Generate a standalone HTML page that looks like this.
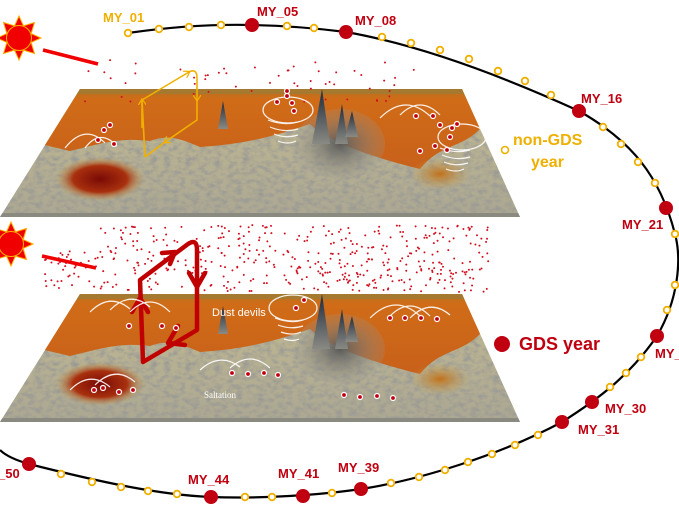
<!DOCTYPE html>
<html><head><meta charset="utf-8">
<style>
html,body{margin:0;padding:0;background:#fff;width:679px;height:509px;overflow:hidden}
svg{display:block}
.lb{font-family:"Liberation Sans",Arial,sans-serif;font-weight:bold;font-size:13px}
</style></head>
<body>
<svg id="s" width="679" height="509" viewBox="0 0 679 509" xmlns="http://www.w3.org/2000/svg">
<defs>
  <filter id="tex" x="0" y="0" width="100%" height="100%">
    <feTurbulence type="fractalNoise" baseFrequency="0.14 0.22" numOctaves="3" seed="4" result="n"/>
    <feColorMatrix in="n" type="matrix" values="0 0 0 0 0.32  0 0 0 0 0.32  0 0 0 0 0.3  0 0 0 2.2 -0.85" result="d"/>
    <feComposite in="d" in2="SourceGraphic" operator="in" result="dd"/>
    <feMerge><feMergeNode in="SourceGraphic"/><feMergeNode in="dd"/></feMerge>
  </filter>
  <linearGradient id="org" x1="0" y1="0" x2="0" y2="1">
    <stop offset="0" stop-color="#b27420"/><stop offset="0.12" stop-color="#d06c18"/><stop offset="1" stop-color="#c8601a"/>
  </linearGradient>
  <linearGradient id="gry" x1="0" y1="0" x2="0" y2="1">
    <stop offset="0" stop-color="#c4bb92"/><stop offset="1" stop-color="#aba792"/>
  </linearGradient>
  <radialGradient id="crat"><stop offset="0" stop-color="#7a0a06"/><stop offset="0.6" stop-color="#a8300e"/><stop offset="1" stop-color="#c8a050" stop-opacity="0"/></radialGradient>
  <radialGradient id="crat2"><stop offset="0" stop-color="#c0701a"/><stop offset="1" stop-color="#c8a050" stop-opacity="0"/></radialGradient>
  <radialGradient id="mnt"><stop offset="0" stop-color="#5a5a58"/><stop offset="1" stop-color="#9a9890" stop-opacity="0.2"/></radialGradient>
  <linearGradient id="peak" x1="0" y1="0" x2="0" y2="1"><stop offset="0" stop-color="#1e2a3a"/><stop offset="1" stop-color="#8a8a84"/></linearGradient>
  <clipPath id="cp"><polygon points="80,0 462,0 520,128 0,128"/></clipPath>
  <g id="map">
    <g clip-path="url(#cp)">
      <rect x="0" y="0" width="520" height="128" fill="url(#gry)" filter="url(#tex)"/>
      <path d="M60,0 H470 L480,40 C460,60 440,55 420,80 C380,70 330,55 310,35 C280,45 250,55 200,58 C180,50 170,45 150,52 C120,48 100,55 70,62 L40,55 Z" fill="url(#org)"/>
      <rect x="0" y="0" width="520" height="5" fill="#a57a30"/>
      <ellipse cx="340" cy="55" rx="45" ry="35" fill="url(#mnt)"/>
      <ellipse cx="100" cy="90" rx="45" ry="22" fill="url(#crat)"/>
      <ellipse cx="440" cy="85" rx="30" ry="16" fill="url(#crat2)"/>
      <polygon points="312,55 322,0 330,55" fill="url(#peak)"/>
      <polygon points="335,55 342,15 348,55" fill="url(#peak)"/>
      <polygon points="345,48 352,22 358,48" fill="url(#peak)"/>
      <polygon points="218,40 223,12 228,40" fill="url(#peak)"/>
      <rect x="0" y="124" width="520" height="4" fill="#8a8a80"/>
    </g>
  </g>
  <g id="sun">
    <g fill="#f00000" stroke="#ffb000" stroke-width="1">
      <polygon points="0,-22 5,-11 -5,-11"/><polygon points="0,22 5,11 -5,11"/>
      <polygon points="-22,0 -11,5 -11,-5"/><polygon points="22,0 11,5 11,-5"/>
      <polygon points="15.5,-15.5 4,-12 12,-4"/><polygon points="-15.5,-15.5 -4,-12 -12,-4"/>
      <polygon points="15.5,15.5 4,12 12,4"/><polygon points="-15.5,15.5 -4,12 -12,4"/>
      <circle r="12.5"/>
    </g>
  </g>
  <marker id="ay" markerWidth="8" markerHeight="8" refX="5" refY="4" orient="auto" markerUnits="userSpaceOnUse"><path d="M0,0 L6,4 L0,8" fill="none" stroke="#f0b000" stroke-width="1.3"/></marker>
</defs>

<path d="M128,33 C170,27 210,24 252,25 C300,26 330,30 346,32 C420,45 500,75 579,111 C630,140 660,175 675,234 C682,260 678,300 657,336 C630,375 600,398 562,422 C500,455 420,480 361,489 C320,495 260,499 211,497 C160,495 100,482 29,464 C15,460 5,455 0,450" fill="none" stroke="#000" stroke-width="2.2"/>
<g id="dots"></g>

<use href="#map" x="0" y="89"/>
<use href="#map" x="0" y="294"/>

<use href="#sun" x="19" y="38"/>
<line x1="43" y1="50" x2="98" y2="64" stroke="#f00000" stroke-width="3.5"/>
<use href="#sun" x="11" y="244"/>
<line x1="42" y1="256" x2="96" y2="268" stroke="#f00000" stroke-width="3.5"/>

<g id="dust"></g>

<g fill="none" stroke="#f0b000" stroke-width="1.6">
<path d="M145,157 L142,100" marker-end="url(#ay)"/>
<path d="M142,100 L142,128 M142,100 L189,72" marker-end="url(#ay)"/>
<path d="M189,72 Q197,68 197,78 L197,100" marker-end="url(#ay)"/>
<path d="M197,100 L197,120 L165,142" marker-end="url(#ay)"/>
<path d="M165,142 L145,157"/>
</g>

<g fill="none" stroke="#c00000" stroke-width="4.5" stroke-linejoin="round" stroke-linecap="round">
<path d="M143,362 L140,280 L188,244 Q197,238 197,250 L197,330 L143,362"/>
<path d="M132,312 L140,298 L148,312"/>
<path d="M162,253 L175,252 L170,264"/>
<path d="M189,273 L197,287 L205,273"/>
<path d="M178,326 L168,343 L185,345"/>
</g>

<g fill="none" stroke="#fff" stroke-width="1.2" opacity="0.9">
<ellipse cx="288" cy="110" rx="25" ry="13"/>
<path d="M268,120 q15,6 30,2 M270,127 q14,6 28,2 M274,134 q12,5 24,1 M278,141 q10,4 18,0"/>
<ellipse cx="462" cy="137" rx="24" ry="13"/>
<path d="M440,148 q15,6 30,2 M442,155 q14,6 28,2 M444,162 q12,5 24,1 M446,169 q10,4 18,0"/>
<ellipse cx="293" cy="308" rx="24" ry="13"/>
<path d="M275,318 q15,6 28,2 M278,325 q13,5 25,1 M281,332 q11,4 20,0 M284,339 q9,3 15,0"/>
<path d="M65,148 q20,-25 40,-5 M85,148 q15,-20 32,-2 M380,118 q25,-25 50,-2 M400,115 q20,-20 40,0"/>
<path d="M90,312 q20,-20 40,-3 M110,310 q20,-20 40,-3 M130,312 q20,-20 40,0 M370,318 q25,-25 50,-2 M390,316 q20,-20 40,0 M410,318 q20,-20 40,-3"/>
<path d="M70,390 q20,-20 40,-3 M95,385 q20,-20 40,-3 M200,370 q20,-18 40,-3 M230,368 q20,-18 40,0 M330,440 q20,-18 40,-3 M350,440 q20,-18 40,0"/>
</g>
<g id="pdots"></g>

<text x="212" y="316" font-family="Liberation Sans,sans-serif" font-size="11" fill="#fff">Dust devils</text>
<text x="204" y="398" font-family="Liberation Serif,serif" font-size="9" fill="#fff">Saltation</text>

<g class="lb" fill="#c00010">
<text x="103" y="22" fill="#f0b000">MY_01</text>
<text x="257" y="16">MY_05</text>
<text x="355" y="25">MY_08</text>
<text x="581" y="103">MY_16</text>
<text x="622" y="229">MY_21</text>
<text x="655" y="358">MY_</text>
<text x="605" y="413">MY_30</text>
<text x="578" y="434">MY_31</text>
<text x="338" y="472">MY_39</text>
<text x="278" y="478">MY_41</text>
<text x="188" y="484">MY_44</text>
<text x="-2" y="478">_50</text>
</g>
<circle cx="505" cy="150" r="3.5" fill="#fff" stroke="#f0b000" stroke-width="1.6"/>
<text x="513" y="145" font-family="Liberation Sans,sans-serif" font-weight="bold" font-size="16" fill="#f0b000">non-GDS</text>
<text x="531" y="167" font-family="Liberation Sans,sans-serif" font-weight="bold" font-size="16" fill="#f0b000">year</text>
<circle cx="502" cy="344" r="8" fill="#c00010"/>
<text x="519" y="350" font-family="Liberation Sans,sans-serif" font-weight="bold" font-size="18" fill="#c00010">GDS year</text>

<script>
var NS="http://www.w3.org/2000/svg";
function add(p,t,a){var e=document.createElementNS(NS,t);for(var k in a)e.setAttribute(k,a[k]);p.appendChild(e);return e;}
var d=document.getElementById('dots');
var Y=[[128,33],[159,29],[189,27],[221,25],[287,26],[314,28],[382,37],[411,43],[440,50],[469,59],[498,71],[525,81],[551,95],[603,127],[621,144],[638,162],[655,183],[675,234],[675,285],[667,310],[641,357],[626,373],[610,387],[538,435],[515,445],[492,454],[468,462],[445,470],[419,477],[391,483],[332,493],[272,497],[245,497],[177,494],[148,491],[121,487],[92,482],[61,474]];
Y.forEach(function(p){add(d,'circle',{cx:p[0],cy:p[1],r:3.3,fill:'#fff',stroke:'#f0b000','stroke-width':1.8});});
var R=[[252,25],[346,32],[579,111],[666,208],[657,336],[592,402],[562,422],[361,489],[303,496],[211,497],[29,464]];
R.forEach(function(p){add(d,'circle',{cx:p[0],cy:p[1],r:7,fill:'#c00010'});});
var s=7;function rnd(){s=(s*16807)%2147483647;return s/2147483647;}
var g=document.getElementById('dust');
for(var i=0;i<55;i++){add(g,'circle',{cx:85+rnd()*330,cy:60+rnd()*45,r:1,fill:'#d01020'});}
for(var i=0;i<520;i++){var x=45+rnd()*445,y=225+rnd()*67;if(x<100&&y<250)continue;add(g,'circle',{cx:x,cy:y,r:1,fill:'#d01020'});}
var pd=document.getElementById('pdots');
var P=[[98,140],[114,144],[104,130],[110,125],[287,96],[292,103],[277,102],[294,111],[287,91],[440,125],[452,128],[457,124],[450,137],[420,151],[435,146],[447,150],[433,116],[416,116],[129,326],[162,326],[176,328],[94,390],[103,388],[119,392],[133,390],[232,373],[248,374],[264,373],[278,375],[344,395],[360,397],[377,396],[393,398],[390,318],[405,318],[421,318],[437,319],[304,300],[296,308]];
P.forEach(function(p){add(pd,'circle',{cx:p[0],cy:p[1],r:2.5,fill:'#c00010',stroke:'#fff','stroke-width':1.2});});
</script>
</svg>
</body></html>
